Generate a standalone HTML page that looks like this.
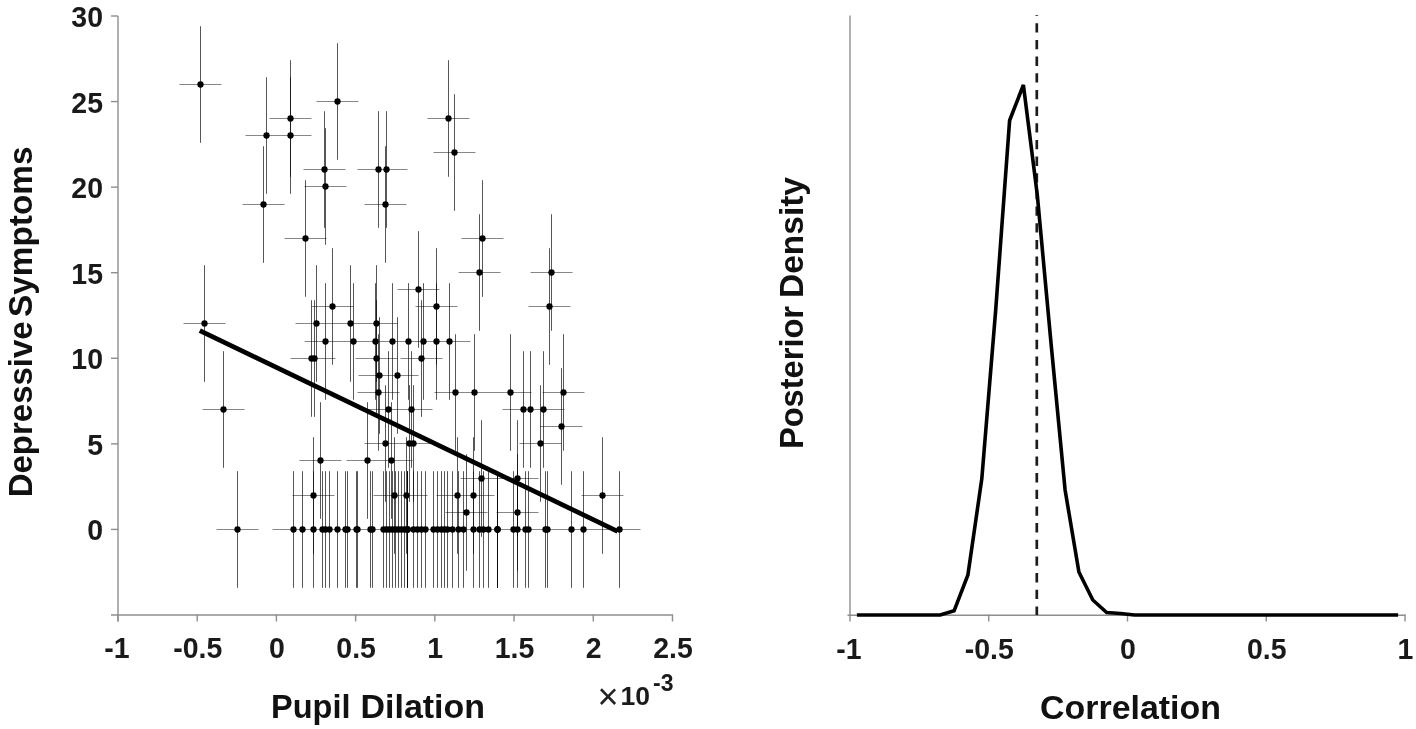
<!DOCTYPE html>
<html lang="en"><head><meta charset="utf-8"><title>Pupil Dilation vs Depressive Symptoms</title>
<style>
html,body{margin:0;padding:0;background:#fff;}
body{width:1416px;height:729px;overflow:hidden;font-family:"Liberation Sans",sans-serif;}
svg{display:block;position:absolute;left:0;top:0;}
.tk{font-family:"Liberation Sans",sans-serif;font-weight:700;font-size:30px;fill:#1a1a1a;}
.lb{font-family:"Liberation Sans",sans-serif;font-weight:700;font-size:33px;fill:#111;}
.ax{stroke:#8e8e8e;stroke-width:1.4;fill:none;}
.ev{stroke:#000;stroke-opacity:.66;stroke-width:1;}
.eh{stroke:#000;opacity:.47;stroke-width:1;}
.pt{fill:#000;}
</style></head><body>
<svg width="1416" height="729" viewBox="0 0 1416 729">
<rect x="0" y="0" width="1416" height="729" fill="#ffffff"/>
<g class="ax">
<path d="M118 16V621.5"/>
<path d="M111 615H673"/>
<path d="M111 16.00H118"/>
<path d="M111 101.57H118"/>
<path d="M111 187.14H118"/>
<path d="M111 272.71H118"/>
<path d="M111 358.28H118"/>
<path d="M111 443.85H118"/>
<path d="M111 529.42H118"/>
<path d="M118.00 614.5V621.5"/>
<path d="M197.21 614.5V621.5"/>
<path d="M276.42 614.5V621.5"/>
<path d="M355.63 614.5V621.5"/>
<path d="M434.84 614.5V621.5"/>
<path d="M514.05 614.5V621.5"/>
<path d="M593.26 614.5V621.5"/>
<path d="M672.47 614.5V621.5"/>
</g>
<text class="tk" transform="translate(103 27.0) scale(0.95 1)" text-anchor="end">30</text>
<text class="tk" transform="translate(103 112.6) scale(0.95 1)" text-anchor="end">25</text>
<text class="tk" transform="translate(103 198.1) scale(0.95 1)" text-anchor="end">20</text>
<text class="tk" transform="translate(103 283.7) scale(0.95 1)" text-anchor="end">15</text>
<text class="tk" transform="translate(103 369.3) scale(0.95 1)" text-anchor="end">10</text>
<text class="tk" transform="translate(103 454.8) scale(0.95 1)" text-anchor="end">5</text>
<text class="tk" transform="translate(103 540.4) scale(0.95 1)" text-anchor="end">0</text>
<text class="tk" transform="translate(116.8 658.4) scale(0.95 1)" text-anchor="middle">-1</text>
<text class="tk" transform="translate(197.7 658.4) scale(0.95 1)" text-anchor="middle">-0.5</text>
<text class="tk" transform="translate(276.9 658.4) scale(0.95 1)" text-anchor="middle">0</text>
<text class="tk" transform="translate(356.1 658.4) scale(0.95 1)" text-anchor="middle">0.5</text>
<text class="tk" transform="translate(435.3 658.4) scale(0.95 1)" text-anchor="middle">1</text>
<text class="tk" transform="translate(514.5 658.4) scale(0.95 1)" text-anchor="middle">1.5</text>
<text class="tk" transform="translate(593.8 658.4) scale(0.95 1)" text-anchor="middle">2</text>
<text class="tk" transform="translate(673.0 658.4) scale(0.95 1)" text-anchor="middle">2.5</text>
<g class="eh">
<path d="M179.5 84.5H221.5"/>
<path d="M316.5 101.5H358.5"/>
<path d="M269.5 118.5H311.5"/>
<path d="M427.5 118.5H469.5"/>
<path d="M245.5 135.5H287.5"/>
<path d="M269.5 135.5H311.5"/>
<path d="M433.5 152.5H475.5"/>
<path d="M303.5 169.5H345.5"/>
<path d="M357.5 169.5H399.5"/>
<path d="M365.5 169.5H407.5"/>
<path d="M304.5 186.5H346.5"/>
<path d="M242.5 204.5H284.5"/>
<path d="M364.5 204.5H406.5"/>
<path d="M284.5 238.5H326.5"/>
<path d="M461.5 238.5H503.5"/>
<path d="M458.5 272.5H500.5"/>
<path d="M530.5 272.5H572.5"/>
<path d="M397.5 289.5H439.5"/>
<path d="M311.5 306.5H353.5"/>
<path d="M415.5 306.5H457.5"/>
<path d="M528.5 306.5H570.5"/>
<path d="M183.5 323.5H225.5"/>
<path d="M295.5 323.5H337.5"/>
<path d="M329.5 323.5H371.5"/>
<path d="M355.5 323.5H397.5"/>
<path d="M304.5 341.5H346.5"/>
<path d="M332.5 341.5H374.5"/>
<path d="M354.5 341.5H396.5"/>
<path d="M371.5 341.5H413.5"/>
<path d="M387.5 341.5H429.5"/>
<path d="M402.5 341.5H444.5"/>
<path d="M415.5 341.5H457.5"/>
<path d="M428.5 341.5H470.5"/>
<path d="M290.5 358.5H332.5"/>
<path d="M293.5 358.5H335.5"/>
<path d="M355.5 358.5H397.5"/>
<path d="M400.5 358.5H442.5"/>
<path d="M358.5 375.5H400.5"/>
<path d="M376.5 375.5H418.5"/>
<path d="M357.5 392.5H399.5"/>
<path d="M434.5 392.5H476.5"/>
<path d="M453.5 392.5H495.5"/>
<path d="M489.5 392.5H531.5"/>
<path d="M542.5 392.5H584.5"/>
<path d="M202.5 409.5H244.5"/>
<path d="M367.5 409.5H409.5"/>
<path d="M390.5 409.5H432.5"/>
<path d="M502.5 409.5H544.5"/>
<path d="M509.5 409.5H551.5"/>
<path d="M522.5 409.5H564.5"/>
<path d="M540.5 426.5H582.5"/>
<path d="M364.5 443.5H406.5"/>
<path d="M388.5 443.5H430.5"/>
<path d="M392.5 443.5H434.5"/>
<path d="M519.5 443.5H561.5"/>
<path d="M299.5 460.5H341.5"/>
<path d="M346.5 460.5H388.5"/>
<path d="M370.5 460.5H412.5"/>
<path d="M460.5 478.5H502.5"/>
<path d="M496.5 478.5H538.5"/>
<path d="M292.5 495.5H334.5"/>
<path d="M373.5 495.5H415.5"/>
<path d="M385.5 495.5H427.5"/>
<path d="M436.5 495.5H478.5"/>
<path d="M452.5 495.5H494.5"/>
<path d="M581.5 495.5H623.5"/>
<path d="M445.5 512.5H487.5"/>
<path d="M496.5 512.5H538.5"/>
<path d="M216.5 529.5H258.5"/>
<path d="M272.5 529.5H314.5"/>
<path d="M281.5 529.5H323.5"/>
<path d="M292.5 529.5H334.5"/>
<path d="M301.5 529.5H343.5"/>
<path d="M304.5 529.5H346.5"/>
<path d="M308.5 529.5H350.5"/>
<path d="M316.5 529.5H358.5"/>
<path d="M324.5 529.5H366.5"/>
<path d="M326.5 529.5H368.5"/>
<path d="M335.5 529.5H377.5"/>
<path d="M336.5 529.5H378.5"/>
<path d="M349.5 529.5H391.5"/>
<path d="M351.5 529.5H393.5"/>
<path d="M362.5 529.5H404.5"/>
<path d="M365.5 529.5H407.5"/>
<path d="M368.5 529.5H410.5"/>
<path d="M371.5 529.5H413.5"/>
<path d="M374.5 529.5H416.5"/>
<path d="M377.5 529.5H419.5"/>
<path d="M380.5 529.5H422.5"/>
<path d="M383.5 529.5H425.5"/>
<path d="M386.5 529.5H428.5"/>
<path d="M386.5 529.5H428.5"/>
<path d="M386.5 529.5H428.5"/>
<path d="M392.5 529.5H434.5"/>
<path d="M396.5 529.5H438.5"/>
<path d="M400.5 529.5H442.5"/>
<path d="M404.5 529.5H446.5"/>
<path d="M412.5 529.5H454.5"/>
<path d="M416.5 529.5H458.5"/>
<path d="M420.5 529.5H462.5"/>
<path d="M423.5 529.5H465.5"/>
<path d="M426.5 529.5H468.5"/>
<path d="M431.5 529.5H473.5"/>
<path d="M437.5 529.5H479.5"/>
<path d="M442.5 529.5H484.5"/>
<path d="M452.5 529.5H494.5"/>
<path d="M458.5 529.5H500.5"/>
<path d="M462.5 529.5H504.5"/>
<path d="M467.5 529.5H509.5"/>
<path d="M476.5 529.5H518.5"/>
<path d="M476.5 529.5H518.5"/>
<path d="M476.5 529.5H518.5"/>
<path d="M492.5 529.5H534.5"/>
<path d="M496.5 529.5H538.5"/>
<path d="M504.5 529.5H546.5"/>
<path d="M507.5 529.5H549.5"/>
<path d="M524.5 529.5H566.5"/>
<path d="M526.5 529.5H568.5"/>
<path d="M550.5 529.5H592.5"/>
<path d="M562.5 529.5H604.5"/>
<path d="M598.5 529.5H640.5"/>
</g>
<g class="ev">
<path d="M200.5 26.2V142.8"/>
<path d="M337.5 43.2V159.8"/>
<path d="M290.5 60.2V176.8"/>
<path d="M448.5 60.2V176.8"/>
<path d="M266.5 77.2V193.8"/>
<path d="M290.5 77.2V193.8"/>
<path d="M454.5 94.2V210.8"/>
<path d="M324.5 111.2V227.8"/>
<path d="M378.5 111.2V227.8"/>
<path d="M386.5 111.2V227.8"/>
<path d="M325.5 128.2V244.8"/>
<path d="M263.5 146.2V262.8"/>
<path d="M385.5 146.2V262.8"/>
<path d="M305.5 180.2V296.8"/>
<path d="M482.5 180.2V296.8"/>
<path d="M479.5 214.2V330.8"/>
<path d="M551.5 214.2V330.8"/>
<path d="M418.5 231.2V347.8"/>
<path d="M332.5 248.2V364.8"/>
<path d="M436.5 248.2V364.8"/>
<path d="M549.5 248.2V364.8"/>
<path d="M204.5 265.2V381.8"/>
<path d="M316.5 265.2V381.8"/>
<path d="M350.5 265.2V381.8"/>
<path d="M376.5 265.2V381.8"/>
<path d="M325.5 283.2V399.8"/>
<path d="M353.5 283.2V399.8"/>
<path d="M375.5 283.2V399.8"/>
<path d="M392.5 283.2V399.8"/>
<path d="M408.5 283.2V399.8"/>
<path d="M423.5 283.2V399.8"/>
<path d="M436.5 283.2V399.8"/>
<path d="M449.5 283.2V399.8"/>
<path d="M311.5 300.2V416.8"/>
<path d="M314.5 300.2V416.8"/>
<path d="M376.5 300.2V416.8"/>
<path d="M421.5 300.2V416.8"/>
<path d="M379.5 317.2V433.8"/>
<path d="M397.5 317.2V433.8"/>
<path d="M378.5 334.2V450.8"/>
<path d="M455.5 334.2V450.8"/>
<path d="M474.5 334.2V450.8"/>
<path d="M510.5 334.2V450.8"/>
<path d="M563.5 334.2V450.8"/>
<path d="M223.5 351.2V467.8"/>
<path d="M388.5 351.2V467.8"/>
<path d="M411.5 351.2V467.8"/>
<path d="M523.5 351.2V467.8"/>
<path d="M530.5 351.2V467.8"/>
<path d="M543.5 351.2V467.8"/>
<path d="M561.5 368.2V484.8"/>
<path d="M385.5 385.2V501.8"/>
<path d="M409.5 385.2V501.8"/>
<path d="M413.5 385.2V501.8"/>
<path d="M540.5 385.2V501.8"/>
<path d="M320.5 402.2V518.8"/>
<path d="M367.5 402.2V518.8"/>
<path d="M391.5 402.2V518.8"/>
<path d="M481.5 420.2V536.8"/>
<path d="M517.5 420.2V536.8"/>
<path d="M313.5 437.2V553.8"/>
<path d="M394.5 437.2V553.8"/>
<path d="M406.5 437.2V553.8"/>
<path d="M457.5 437.2V553.8"/>
<path d="M473.5 437.2V553.8"/>
<path d="M602.5 437.2V553.8"/>
<path d="M466.5 454.2V570.8"/>
<path d="M517.5 454.2V570.8"/>
<path d="M237.5 471.2V587.8"/>
<path d="M293.5 471.2V587.8"/>
<path d="M302.5 471.2V587.8"/>
<path d="M313.5 471.2V587.8"/>
<path d="M322.5 471.2V587.8"/>
<path d="M325.5 471.2V587.8"/>
<path d="M329.5 471.2V587.8"/>
<path d="M337.5 471.2V587.8"/>
<path d="M345.5 471.2V587.8"/>
<path d="M347.5 471.2V587.8"/>
<path d="M356.5 471.2V587.8"/>
<path d="M357.5 471.2V587.8"/>
<path d="M370.5 471.2V587.8"/>
<path d="M372.5 471.2V587.8"/>
<path d="M383.5 471.2V587.8"/>
<path d="M386.5 471.2V587.8"/>
<path d="M389.5 471.2V587.8"/>
<path d="M392.5 471.2V587.8"/>
<path d="M395.5 471.2V587.8"/>
<path d="M398.5 471.2V587.8"/>
<path d="M401.5 471.2V587.8"/>
<path d="M404.5 471.2V587.8"/>
<path d="M407.5 471.2V587.8"/>
<path d="M407.5 471.2V587.8"/>
<path d="M407.5 471.2V587.8"/>
<path d="M413.5 471.2V587.8"/>
<path d="M417.5 471.2V587.8"/>
<path d="M421.5 471.2V587.8"/>
<path d="M425.5 471.2V587.8"/>
<path d="M433.5 471.2V587.8"/>
<path d="M437.5 471.2V587.8"/>
<path d="M441.5 471.2V587.8"/>
<path d="M444.5 471.2V587.8"/>
<path d="M447.5 471.2V587.8"/>
<path d="M452.5 471.2V587.8"/>
<path d="M458.5 471.2V587.8"/>
<path d="M463.5 471.2V587.8"/>
<path d="M473.5 471.2V587.8"/>
<path d="M479.5 471.2V587.8"/>
<path d="M483.5 471.2V587.8"/>
<path d="M488.5 471.2V587.8"/>
<path d="M497.5 471.2V587.8"/>
<path d="M497.5 471.2V587.8"/>
<path d="M497.5 471.2V587.8"/>
<path d="M513.5 471.2V587.8"/>
<path d="M517.5 471.2V587.8"/>
<path d="M525.5 471.2V587.8"/>
<path d="M528.5 471.2V587.8"/>
<path d="M545.5 471.2V587.8"/>
<path d="M547.5 471.2V587.8"/>
<path d="M571.5 471.2V587.8"/>
<path d="M583.5 471.2V587.8"/>
<path d="M619.5 471.2V587.8"/>
</g>
<g class="pt">
<circle cx="200.5" cy="84.5" r="3.15"/>
<circle cx="337.5" cy="101.5" r="3.15"/>
<circle cx="290.5" cy="118.5" r="3.15"/>
<circle cx="448.5" cy="118.5" r="3.15"/>
<circle cx="266.5" cy="135.5" r="3.15"/>
<circle cx="290.5" cy="135.5" r="3.15"/>
<circle cx="454.5" cy="152.5" r="3.15"/>
<circle cx="324.5" cy="169.5" r="3.15"/>
<circle cx="378.5" cy="169.5" r="3.15"/>
<circle cx="386.5" cy="169.5" r="3.15"/>
<circle cx="325.5" cy="186.5" r="3.15"/>
<circle cx="263.5" cy="204.5" r="3.15"/>
<circle cx="385.5" cy="204.5" r="3.15"/>
<circle cx="305.5" cy="238.5" r="3.15"/>
<circle cx="482.5" cy="238.5" r="3.15"/>
<circle cx="479.5" cy="272.5" r="3.15"/>
<circle cx="551.5" cy="272.5" r="3.15"/>
<circle cx="418.5" cy="289.5" r="3.15"/>
<circle cx="332.5" cy="306.5" r="3.15"/>
<circle cx="436.5" cy="306.5" r="3.15"/>
<circle cx="549.5" cy="306.5" r="3.15"/>
<circle cx="204.5" cy="323.5" r="3.15"/>
<circle cx="316.5" cy="323.5" r="3.15"/>
<circle cx="350.5" cy="323.5" r="3.15"/>
<circle cx="376.5" cy="323.5" r="3.15"/>
<circle cx="325.5" cy="341.5" r="3.15"/>
<circle cx="353.5" cy="341.5" r="3.15"/>
<circle cx="375.5" cy="341.5" r="3.15"/>
<circle cx="392.5" cy="341.5" r="3.15"/>
<circle cx="408.5" cy="341.5" r="3.15"/>
<circle cx="423.5" cy="341.5" r="3.15"/>
<circle cx="436.5" cy="341.5" r="3.15"/>
<circle cx="449.5" cy="341.5" r="3.15"/>
<circle cx="311.5" cy="358.5" r="3.15"/>
<circle cx="314.5" cy="358.5" r="3.15"/>
<circle cx="376.5" cy="358.5" r="3.15"/>
<circle cx="421.5" cy="358.5" r="3.15"/>
<circle cx="379.5" cy="375.5" r="3.15"/>
<circle cx="397.5" cy="375.5" r="3.15"/>
<circle cx="378.5" cy="392.5" r="3.15"/>
<circle cx="455.5" cy="392.5" r="3.15"/>
<circle cx="474.5" cy="392.5" r="3.15"/>
<circle cx="510.5" cy="392.5" r="3.15"/>
<circle cx="563.5" cy="392.5" r="3.15"/>
<circle cx="223.5" cy="409.5" r="3.15"/>
<circle cx="388.5" cy="409.5" r="3.15"/>
<circle cx="411.5" cy="409.5" r="3.15"/>
<circle cx="523.5" cy="409.5" r="3.15"/>
<circle cx="530.5" cy="409.5" r="3.15"/>
<circle cx="543.5" cy="409.5" r="3.15"/>
<circle cx="561.5" cy="426.5" r="3.15"/>
<circle cx="385.5" cy="443.5" r="3.15"/>
<circle cx="409.5" cy="443.5" r="3.15"/>
<circle cx="413.5" cy="443.5" r="3.15"/>
<circle cx="540.5" cy="443.5" r="3.15"/>
<circle cx="320.5" cy="460.5" r="3.15"/>
<circle cx="367.5" cy="460.5" r="3.15"/>
<circle cx="391.5" cy="460.5" r="3.15"/>
<circle cx="481.5" cy="478.5" r="3.15"/>
<circle cx="517.5" cy="478.5" r="3.15"/>
<circle cx="313.5" cy="495.5" r="3.15"/>
<circle cx="394.5" cy="495.5" r="3.15"/>
<circle cx="406.5" cy="495.5" r="3.15"/>
<circle cx="457.5" cy="495.5" r="3.15"/>
<circle cx="473.5" cy="495.5" r="3.15"/>
<circle cx="602.5" cy="495.5" r="3.15"/>
<circle cx="466.5" cy="512.5" r="3.15"/>
<circle cx="517.5" cy="512.5" r="3.15"/>
<circle cx="237.5" cy="529.5" r="3.15"/>
<circle cx="293.5" cy="529.5" r="3.15"/>
<circle cx="302.5" cy="529.5" r="3.15"/>
<circle cx="313.5" cy="529.5" r="3.15"/>
<circle cx="322.5" cy="529.5" r="3.15"/>
<circle cx="325.5" cy="529.5" r="3.15"/>
<circle cx="329.5" cy="529.5" r="3.15"/>
<circle cx="337.5" cy="529.5" r="3.15"/>
<circle cx="345.5" cy="529.5" r="3.15"/>
<circle cx="347.5" cy="529.5" r="3.15"/>
<circle cx="356.5" cy="529.5" r="3.15"/>
<circle cx="357.5" cy="529.5" r="3.15"/>
<circle cx="370.5" cy="529.5" r="3.15"/>
<circle cx="372.5" cy="529.5" r="3.15"/>
<circle cx="383.5" cy="529.5" r="3.15"/>
<circle cx="386.5" cy="529.5" r="3.15"/>
<circle cx="389.5" cy="529.5" r="3.15"/>
<circle cx="392.5" cy="529.5" r="3.15"/>
<circle cx="395.5" cy="529.5" r="3.15"/>
<circle cx="398.5" cy="529.5" r="3.15"/>
<circle cx="401.5" cy="529.5" r="3.15"/>
<circle cx="404.5" cy="529.5" r="3.15"/>
<circle cx="407.5" cy="529.5" r="3.15"/>
<circle cx="407.5" cy="529.5" r="3.15"/>
<circle cx="407.5" cy="529.5" r="3.15"/>
<circle cx="413.5" cy="529.5" r="3.15"/>
<circle cx="417.5" cy="529.5" r="3.15"/>
<circle cx="421.5" cy="529.5" r="3.15"/>
<circle cx="425.5" cy="529.5" r="3.15"/>
<circle cx="433.5" cy="529.5" r="3.15"/>
<circle cx="437.5" cy="529.5" r="3.15"/>
<circle cx="441.5" cy="529.5" r="3.15"/>
<circle cx="444.5" cy="529.5" r="3.15"/>
<circle cx="447.5" cy="529.5" r="3.15"/>
<circle cx="452.5" cy="529.5" r="3.15"/>
<circle cx="458.5" cy="529.5" r="3.15"/>
<circle cx="463.5" cy="529.5" r="3.15"/>
<circle cx="473.5" cy="529.5" r="3.15"/>
<circle cx="479.5" cy="529.5" r="3.15"/>
<circle cx="483.5" cy="529.5" r="3.15"/>
<circle cx="488.5" cy="529.5" r="3.15"/>
<circle cx="497.5" cy="529.5" r="3.15"/>
<circle cx="497.5" cy="529.5" r="3.15"/>
<circle cx="497.5" cy="529.5" r="3.15"/>
<circle cx="513.5" cy="529.5" r="3.15"/>
<circle cx="517.5" cy="529.5" r="3.15"/>
<circle cx="525.5" cy="529.5" r="3.15"/>
<circle cx="528.5" cy="529.5" r="3.15"/>
<circle cx="545.5" cy="529.5" r="3.15"/>
<circle cx="547.5" cy="529.5" r="3.15"/>
<circle cx="571.5" cy="529.5" r="3.15"/>
<circle cx="583.5" cy="529.5" r="3.15"/>
<circle cx="619.5" cy="529.5" r="3.15"/>
</g>
<path d="M199.8 330.6L617.6 531.3" stroke="#000" stroke-width="4.7" fill="none"/>
<text class="lb" x="271" y="717.5" textLength="79.5" lengthAdjust="spacingAndGlyphs">Pupil</text>
<text class="lb" x="360.5" y="717.5" textLength="124.5" lengthAdjust="spacingAndGlyphs">Dilation</text>
<text class="lb" transform="translate(32.2 497.3) rotate(-90)" textLength="176" lengthAdjust="spacingAndGlyphs">Depressive</text>
<text class="lb" transform="translate(32.2 317) rotate(-90)" textLength="170.5" lengthAdjust="spacingAndGlyphs">Symptoms</text>
<text x="597.6" y="709" style="font-family:'Liberation Sans',sans-serif;font-size:36px;fill:#222;font-weight:400">×</text>
<text x="620.5" y="705" style="font-family:'Liberation Sans',sans-serif;font-size:26.5px;fill:#1a1a1a;font-weight:700">10</text>
<text x="653" y="691" style="font-family:'Liberation Sans',sans-serif;font-size:23px;fill:#1a1a1a;font-weight:700">-3</text>
<g class="ax">
<path d="M850 15.5V615"/>
<path d="M847.5 615.2H1405.5"/>
<path d="M850.00 614.5V621.5"/>
<path d="M988.75 614.5V621.5"/>
<path d="M1127.50 614.5V621.5"/>
<path d="M1266.25 614.5V621.5"/>
<path d="M1405.00 614.5V621.5"/>
</g>
<text class="tk" transform="translate(848.8 659.2) scale(0.95 1)" text-anchor="middle">-1</text>
<text class="tk" transform="translate(989.2 659.2) scale(0.95 1)" text-anchor="middle">-0.5</text>
<text class="tk" transform="translate(1128.0 659.2) scale(0.95 1)" text-anchor="middle">0</text>
<text class="tk" transform="translate(1266.8 659.2) scale(0.95 1)" text-anchor="middle">0.5</text>
<text class="tk" transform="translate(1405.5 659.2) scale(0.95 1)" text-anchor="middle">1</text>
<path d="M1036.8 15.2V615" stroke="#1c1c1c" stroke-width="2.7" stroke-dasharray="9.3 7.36" stroke-dashoffset="8.56" fill="none"/>
<path d="M856.9 615.0 L940.2 615.0 L954.1 610.8 L967.9 575.0 L981.8 478.8 L995.7 310.0 L1009.6 120.5 L1023.4 85.0 L1037.3 195.0 L1051.2 345.0 L1065.1 490.0 L1078.9 572.0 L1092.8 600.0 L1106.7 612.5 L1120.6 613.5 L1134.4 615.0 L1398.1 615.0" stroke="#000" stroke-width="3.6" fill="none" stroke-linejoin="miter" stroke-linecap="butt"/>
<text class="lb" x="1040" y="718.5" textLength="181" lengthAdjust="spacingAndGlyphs">Correlation</text>
<text class="lb" transform="translate(802.5 449) rotate(-90)" textLength="143" lengthAdjust="spacingAndGlyphs">Posterior</text>
<text class="lb" transform="translate(802.5 298) rotate(-90)" textLength="121" lengthAdjust="spacingAndGlyphs">Density</text>
</svg>
</body></html>
